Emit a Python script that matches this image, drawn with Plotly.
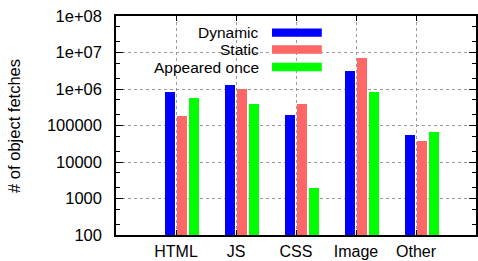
import plotly.graph_objects as go

categories = ["HTML", "JS", "CSS", "Image", "Other"]
series_names = ["Dynamic", "Static", "Appeared once"]
dynamic = [830000, 1290000, 200000, 3050000, 56600]
static = [177000, 980000, 400000, 7000000, 37000]
appeared_once = [580000, 400000, 2000, 843000, 68500]
colors = ["#0000ff", "#ff6666", "#00ff00"]
offsets = [-0.1, 0.1, 0.3]
y_tickvals = [100, 1000, 10000, 100000, 1000000, 10000000, 100000000]
y_ticktext = ["100", "1000", "10000", "100000", "1e+06", "1e+07", "1e+08"]

FONT = "Liberation Sans, Arial, sans-serif"
FS = 16.5

fig = go.Figure()
for name, vals, col, off in zip(series_names, [dynamic, static, appeared_once], colors, offsets):
    fig.add_trace(go.Bar(
        x=[i + off for i in range(len(categories))],
        y=vals,
        width=0.17,
        name=name,
        marker=dict(color=col, line=dict(width=0)),
        showlegend=False,
    ))

# legend drawn gnuplot-style: right-aligned text, sample box to the right
leg_y = [0.924, 0.847, 0.767]
for name, col, yy in zip(series_names, colors, leg_y):
    fig.add_annotation(xref="x", yref="paper", x=1.42, y=yy, text=name,
                       showarrow=False, xanchor="right", yanchor="middle",
                       font=dict(family=FONT, size=15.5, color="black"))
    fig.add_shape(type="rect", xref="x", yref="paper",
                  x0=1.6, x1=2.43, y0=yy - 0.019, y1=yy + 0.019,
                  fillcolor=col, line=dict(width=0))

# y-axis title
fig.add_annotation(xref="paper", yref="paper", x=-0.285, y=0.5, text="# of object fetches",
                   showarrow=False, textangle=-90, xanchor="center", yanchor="middle",
                   font=dict(family=FONT, size=FS, color="black"))

fig.update_layout(
    width=478, height=261,
    margin=dict(l=116, r=2, t=16, b=26, autoexpand=False),
    paper_bgcolor="white", plot_bgcolor="white",
    font=dict(family=FONT, size=FS, color="black"),
    bargap=0,
)
fig.update_xaxes(
    range=[-1, 5], autorange=False, automargin=False,
    tickmode="array", tickvals=list(range(len(categories))), ticktext=categories,
    tickfont=dict(size=16),
    ticks="inside", ticklen=5, tickcolor="black",
    showline=True, linecolor="black", linewidth=1.5, mirror="allticks",
    showgrid=True, gridcolor="#9a9a9a", griddash="3px,3px", gridwidth=1,
    ticklabelstandoff=1,
    zeroline=False,
)
fig.update_yaxes(
    type="log", range=[2, 8], autorange=False, automargin=False,
    tickmode="array", tickvals=y_tickvals, ticktext=y_ticktext,
    ticks="inside", ticklen=7, tickcolor="black",
    showline=True, linecolor="black", linewidth=1.5, mirror="allticks",
    showgrid=True, gridcolor="#9a9a9a", griddash="3px,3px", gridwidth=1,
    minor=dict(ticks="inside", ticklen=4, dtick="D2", tickcolor="black", showgrid=False),
    ticklabelstandoff=9,
    zeroline=False,
)

fig.write_html("out.html", config={"displayModeBar": False},
               post_script="document.body.style.margin='0';document.body.style.overflow='hidden';")
